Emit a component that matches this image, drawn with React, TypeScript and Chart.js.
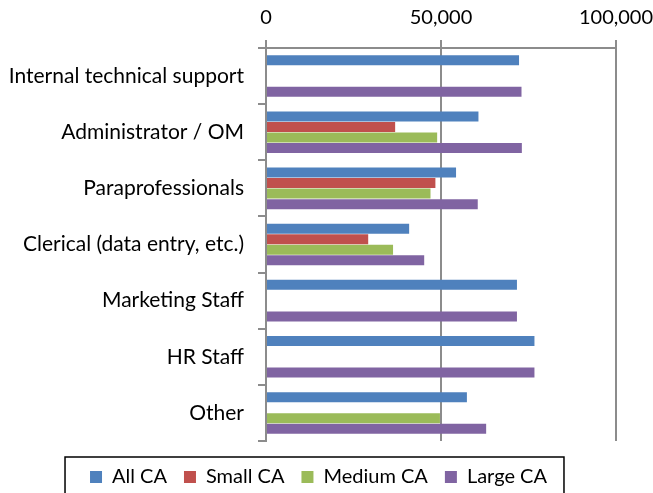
import React, { useEffect, useRef } from "react";
import { Chart, registerables } from "chart.js";

Chart.register(...registerables);

const categories = [
  "Internal technical support",
  "Administrator / OM",
  "Paraprofessionals",
  "Clerical (data entry, etc.)",
  "Marketing Staff",
  "HR Staff",
  "Other",
];

const allCA = [72300, 60700, 54300, 40900, 71700, 76700, 57400];
const smallCA = [null, 36900, 48400, 29200, null, null, null];
const mediumCA = [null, 48900, 47000, 36300, null, null, 49700];
const largeCA = [73000, 73100, 60500, 45200, 71700, 76700, 62900];

const xTicks = [0, 50000, 100000];

const FONT = "Lato, 'Open Sans', sans-serif";

const legendShift = {
  id: "legendShift",
  afterLayout(chart: any) {
    const lg = chart.legend;
    if (!lg) return;
    lg.top += 9;
    lg.bottom += 9;
    lg.left += 8.5;
    lg.right += 8.5;
  },
};

const legendFrame = {
  id: "legendFrame",
  afterDraw(chart: any) {
    const lg = chart.legend;
    if (!lg || !lg.legendHitBoxes || !lg.legendHitBoxes.length) return;
    const hb = lg.legendHitBoxes;
    const left = hb[0].left - 25;
    const last = hb[hb.length - 1];
    const right = last.left + last.width + 17;
    const top = hb[0].top + hb[0].height / 2 - 20;
    const ctx = chart.ctx;
    ctx.save();
    ctx.strokeStyle = "#000";
    ctx.lineWidth = 1.5;
    ctx.strokeRect(left, top, right - left, chart.height + 10 - top);
    ctx.restore();
  },
};

export default function App() {
  const ref = useRef<HTMLCanvasElement>(null);
  useEffect(() => {
    if (!ref.current) return;
    const chart = new Chart(ref.current, {
      type: "bar",
      data: {
        labels: categories,
        datasets: [
          { label: "All CA", data: allCA, backgroundColor: "#4F81BD" },
          { label: "Small CA", data: smallCA, backgroundColor: "#C0504D" },
          { label: "Medium CA", data: mediumCA, backgroundColor: "#9BBB59" },
          { label: "Large CA", data: largeCA, backgroundColor: "#8064A2" },
        ],
      },
      options: {
        indexAxis: "y",
        animation: false,
        responsive: false,
        categoryPercentage: 0.75,
        barPercentage: 0.95,
        layout: { padding: { left: 4, right: 37, top: 0, bottom: 5 } },
        scales: {
          x: {
            position: "top",
            min: 0,
            max: 100000,
            afterBuildTicks: (scale: any) => {
              scale.ticks = xTicks.map((v) => ({ value: v }));
            },
            afterFit: (scale: any) => {
              scale.height = 48;
              scale.paddingLeft = 0;
              scale.paddingRight = 0;
            },
            ticks: {
              color: "#000",
              font: { family: FONT, size: 20 },
              padding: 10,
              maxRotation: 0,
              callback: (v: any) => Number(v).toLocaleString("en-US"),
            },
            grid: { color: "#8c8c8c", lineWidth: 2, tickLength: 8 },
            border: { display: true, color: "#8c8c8c", width: 2 },
          },
          y: {
            afterFit: (scale: any) => {
              scale.width = 262;
            },
            ticks: {
              color: "#000",
              font: { family: FONT, size: 21 },
              padding: 14,
            },
            grid: {
              drawOnChartArea: false,
              drawTicks: true,
              tickLength: 8,
              color: "#8c8c8c",
              lineWidth: 2,
            },
            border: { display: true, color: "#8c8c8c", width: 2 },
          },
        },
        plugins: {
          tooltip: { enabled: false },
          legend: {
            position: "bottom",
            labels: {
              color: "#000",
              font: { family: FONT, size: 20 },
              boxWidth: 12,
              boxHeight: 12,
              padding: 17,
            },
          },
        },
      },
      plugins: [legendShift, legendFrame],
    });
    return () => chart.destroy();
  }, []);
  return (
    <div style={{ position: "fixed", left: 0, top: 0, width: 653, height: 493, background: "#fff" }}>
      <canvas ref={ref} width={653} height={493} />
    </div>
  );
}
